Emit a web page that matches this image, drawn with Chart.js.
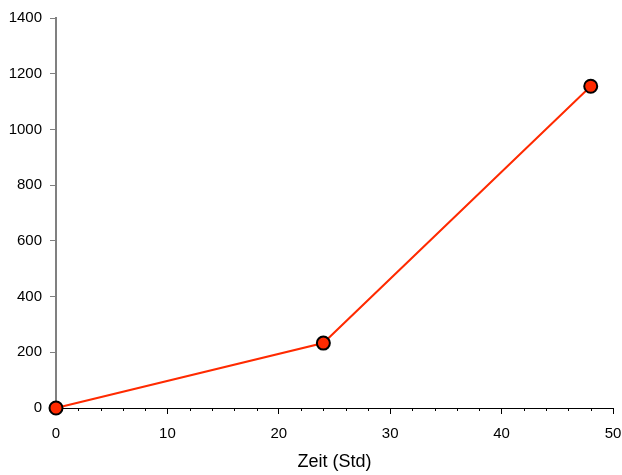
<!DOCTYPE html>
<html>
<head>
<meta charset="utf-8">
<script src="https://cdn.jsdelivr.net/npm/chart.js@4/dist/chart.umd.min.js"></script>
<style>
  html, body { margin: 0; padding: 0; background: #fff; }
  #wrap { width: 622px; height: 475px; }
</style>
</head>
<body>
<div id="wrap"><canvas id="lineChart"></canvas></div>
<script>
// data
const hours = [0, 24, 48];
const values = [0, 233, 1155];
const yTicks = [0, 200, 400, 600, 800, 1000, 1200, 1400];
const xTicks = [0, 10, 20, 30, 40, 50];
const xMinorTicks = [2, 4, 6, 8, 12, 14, 16, 18, 22, 24, 26, 28, 32, 34, 36, 38, 42, 44, 46, 48];

const lineColor = '#ff2a00';

// small ticks between the labelled ones on the x axis
const minorTicks = {
  id: 'minorTicks',
  afterDraw(chart) {
    const ctx = chart.ctx;
    const x = chart.scales.x;
    const y0 = x.top;
    ctx.save();
    ctx.strokeStyle = '#000';
    ctx.lineWidth = 1;
    ctx.beginPath();
    xMinorTicks.forEach(v => {
      const px = Math.round(x.getPixelForValue(v)) + 0.5;
      ctx.moveTo(px, y0);
      ctx.lineTo(px, y0 + 3);
    });
    ctx.stroke();
    ctx.restore();
  }
};

Chart.defaults.font.family = 'Arial, "Liberation Sans", sans-serif';
Chart.defaults.color = '#000';

new Chart('lineChart', {
  type: 'scatter',
  data: {
    datasets: [{
      data: hours.map((h, i) => ({ x: h, y: values[i] })),
      showLine: true,
      borderColor: lineColor,
      borderWidth: 2,
      backgroundColor: lineColor,
      pointBackgroundColor: lineColor,
      pointBorderColor: '#000',
      pointBorderWidth: 2,
      pointRadius: 6.5,
      clip: false
    }]
  },
  options: {
    responsive: true,
    maintainAspectRatio: false,
    animation: false,
    layout: { padding: { left: 0, right: 9, top: 18, bottom: 0 } },
    plugins: { legend: { display: false }, tooltip: { enabled: false } },
    scales: {
      x: {
        type: 'linear',
        min: 0,
        max: 50,
        afterBuildTicks: axis => { axis.ticks = xTicks.map(v => ({ value: v })); },
        afterFit: axis => { axis.height = 67; axis.paddingLeft = 0; axis.paddingRight = 0; },
        border: { color: '#000', width: 1 },
        grid: { drawOnChartArea: false, drawTicks: true, tickLength: 6, color: '#000' },
        ticks: { font: { size: 15 }, padding: 11, maxRotation: 0, callback: v => String(v) },
        title: { display: true, text: 'Zeit (Std)', font: { size: 18 }, padding: { top: 0, bottom: 2 } }
      },
      y: {
        min: 0,
        max: 1400,
        afterBuildTicks: axis => { axis.ticks = yTicks.map(v => ({ value: v })); },
        afterFit: axis => { axis.width = 56; axis.paddingTop = 0; axis.paddingBottom = 0; },
        border: { color: '#808080', width: 2 },
        grid: { drawOnChartArea: false, drawTicks: true, tickLength: 6, color: '#808080' },
        ticks: { font: { size: 15 }, padding: 8, callback: v => String(v) }
      }
    }
  },
  plugins: [minorTicks]
});
</script>
</body>
</html>
